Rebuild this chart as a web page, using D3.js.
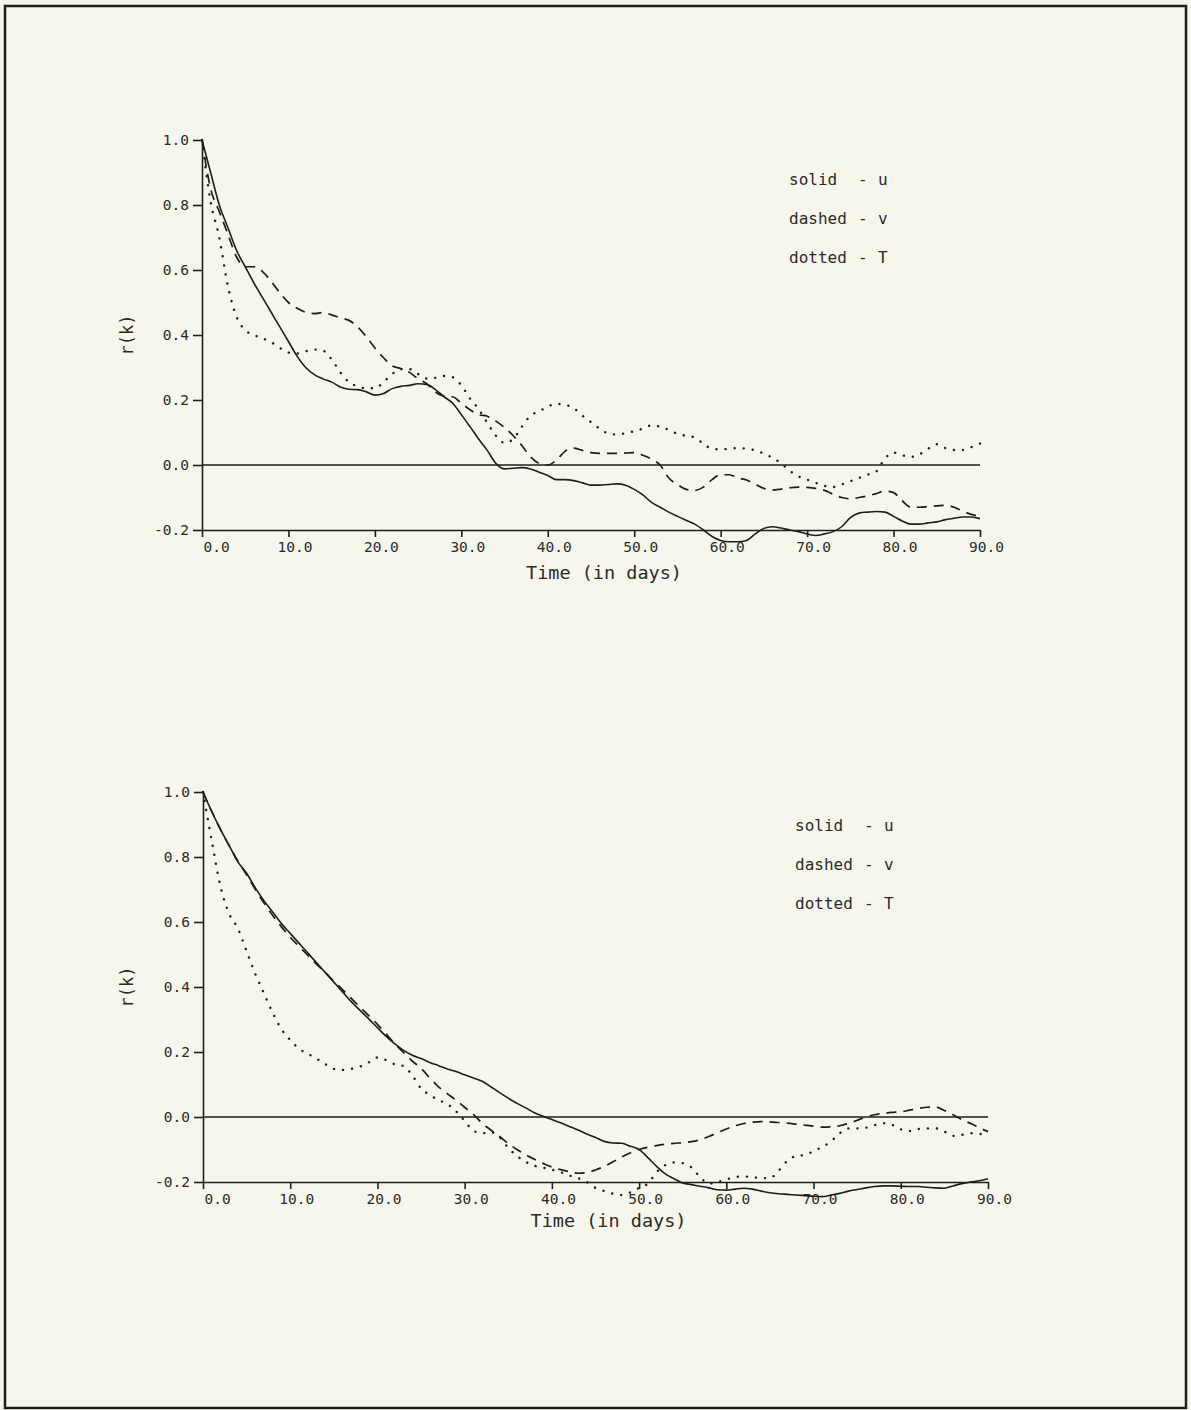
<!DOCTYPE html>
<html>
<head>
<meta charset="utf-8">
<script src="https://cdn.jsdelivr.net/npm/d3@7"></script>
<style>
  body { margin: 0; background: #f7f6ec; }
  text { font-family: "DejaVu Sans Mono", "Liberation Mono", monospace; fill: #2a2a2a; }
</style>
</head>
<body>
<script>
// lag in days, 0..90
var days = d3.range(0, 91);
var xTicks = [0, 10, 20, 30, 40, 50, 60, 70, 80, 90];
var yTicks = [-0.2, 0.0, 0.2, 0.4, 0.6, 0.8, 1.0];
var legendNames = ["solid", "dashed", "dotted"];
var legendVars = ["u", "v", "T"];

// upper panel
var topU = [1.00,0.90,0.80,0.73,0.66,0.61,0.56,0.515,0.47,0.425,
  0.38,0.335,0.30,0.278,0.265,0.255,0.24,0.233,0.232,0.225,
  0.215,0.22,0.235,0.242,0.245,0.25,0.248,0.232,0.21,0.19,
  0.155,0.118,0.08,0.045,0.005,-0.012,-0.01,-0.008,-0.012,-0.022,
  -0.032,-0.045,-0.045,-0.048,-0.055,-0.062,-0.062,-0.06,-0.058,-0.062,
  -0.075,-0.092,-0.115,-0.13,-0.145,-0.158,-0.17,-0.182,-0.2,-0.22,
  -0.232,-0.236,-0.236,-0.232,-0.212,-0.195,-0.19,-0.194,-0.2,-0.205,
  -0.212,-0.217,-0.212,-0.205,-0.19,-0.162,-0.148,-0.145,-0.143,-0.145,
  -0.158,-0.172,-0.182,-0.182,-0.178,-0.175,-0.168,-0.164,-0.16,-0.16,
  -0.165];
var topV = [1.0,0.85,0.78,0.71,0.64,0.61,0.61,0.595,0.565,0.53,
  0.50,0.482,0.47,0.466,0.469,0.462,0.453,0.445,0.425,0.395,
  0.36,0.33,0.305,0.297,0.285,0.265,0.25,0.225,0.212,0.21,
  0.19,0.17,0.155,0.15,0.135,0.115,0.09,0.06,0.025,0.005,
  0.0,0.015,0.042,0.052,0.045,0.038,0.036,0.036,0.036,0.037,
  0.038,0.03,0.018,0.0,-0.04,-0.06,-0.075,-0.078,-0.068,-0.045,
  -0.03,-0.03,-0.04,-0.046,-0.06,-0.072,-0.077,-0.074,-0.07,-0.068,
  -0.069,-0.072,-0.078,-0.09,-0.1,-0.104,-0.1,-0.095,-0.088,-0.08,
  -0.085,-0.11,-0.13,-0.13,-0.128,-0.126,-0.124,-0.13,-0.142,-0.152,
  -0.158];
var topT = [1.0,0.81,0.70,0.55,0.456,0.415,0.40,0.39,0.378,0.36,
  0.346,0.343,0.35,0.355,0.352,0.325,0.285,0.255,0.242,0.236,
  0.236,0.255,0.28,0.295,0.295,0.28,0.266,0.268,0.274,0.27,
  0.245,0.205,0.172,0.13,0.09,0.068,0.08,0.118,0.152,0.165,
  0.18,0.188,0.185,0.175,0.152,0.132,0.112,0.097,0.094,0.098,
  0.104,0.112,0.122,0.118,0.108,0.096,0.09,0.085,0.065,0.05,
  0.048,0.05,0.052,0.05,0.045,0.035,0.022,0.005,-0.018,-0.035,
  -0.045,-0.055,-0.064,-0.068,-0.06,-0.05,-0.04,-0.03,-0.02,0.02,
  0.038,0.03,0.025,0.033,0.05,0.064,0.052,0.046,0.046,0.055,
  0.066];

// lower panel
var botU = [1.0,0.94,0.885,0.835,0.785,0.75,0.705,0.665,0.63,0.595,
  0.565,0.535,0.505,0.475,0.445,0.415,0.385,0.355,0.328,0.302,
  0.275,0.248,0.225,0.205,0.19,0.18,0.168,0.158,0.148,0.14,
  0.13,0.12,0.11,0.093,0.075,0.058,0.042,0.028,0.013,0.002,
  -0.008,-0.018,-0.029,-0.04,-0.052,-0.063,-0.075,-0.08,-0.081,-0.09,
  -0.1,-0.125,-0.152,-0.175,-0.19,-0.203,-0.208,-0.213,-0.218,-0.224,
  -0.225,-0.222,-0.219,-0.222,-0.228,-0.233,-0.236,-0.238,-0.24,-0.242,
  -0.244,-0.245,-0.24,-0.235,-0.228,-0.223,-0.218,-0.214,-0.212,-0.212,
  -0.213,-0.214,-0.214,-0.216,-0.218,-0.219,-0.212,-0.205,-0.2,-0.196,
  -0.19];
var botV = [1.0,0.94,0.885,0.835,0.787,0.745,0.70,0.658,0.62,0.585,
  0.553,0.525,0.498,0.47,0.445,0.418,0.392,0.365,0.338,0.312,
  0.285,0.255,0.225,0.198,0.172,0.15,0.12,0.093,0.072,0.052,
  0.03,0.008,-0.019,-0.04,-0.06,-0.082,-0.1,-0.116,-0.13,-0.143,
  -0.154,-0.162,-0.168,-0.173,-0.171,-0.163,-0.152,-0.138,-0.123,-0.11,
  -0.1,-0.093,-0.088,-0.084,-0.081,-0.079,-0.076,-0.07,-0.06,-0.048,
  -0.037,-0.027,-0.02,-0.016,-0.014,-0.015,-0.017,-0.019,-0.022,-0.025,
  -0.028,-0.031,-0.03,-0.027,-0.02,-0.01,0.0,0.007,0.011,0.014,
  0.016,0.021,0.026,0.03,0.031,0.02,0.007,-0.008,-0.02,-0.033,
  -0.045];
var botT = [1.0,0.85,0.71,0.625,0.58,0.51,0.44,0.38,0.32,0.27,
  0.237,0.21,0.195,0.18,0.163,0.148,0.145,0.148,0.155,0.168,
  0.183,0.175,0.162,0.157,0.128,0.088,0.068,0.052,0.04,0.018,
  -0.012,-0.042,-0.05,-0.047,-0.062,-0.095,-0.12,-0.138,-0.15,-0.156,
  -0.162,-0.17,-0.18,-0.188,-0.2,-0.218,-0.228,-0.236,-0.24,-0.232,
  -0.218,-0.205,-0.17,-0.148,-0.14,-0.142,-0.155,-0.185,-0.205,-0.2,
  -0.192,-0.185,-0.183,-0.185,-0.188,-0.188,-0.165,-0.135,-0.12,-0.117,
  -0.105,-0.092,-0.075,-0.05,-0.035,-0.035,-0.033,-0.025,-0.019,-0.024,
  -0.038,-0.043,-0.037,-0.035,-0.035,-0.045,-0.058,-0.055,-0.05,-0.052,
  -0.055];

var width = 1191, height = 1410;
var svg = d3.select("body").append("svg")
  .attr("width", width)
  .attr("height", height);

svg.append("rect")
  .attr("x", 5).attr("y", 6)
  .attr("width", 1181).attr("height", 1402)
  .attr("fill", "none")
  .attr("stroke", "#1e1e1e")
  .attr("stroke-width", 2.5);

var styles = [
  {dash: null, width: 1.6, cap: "butt"},
  {dash: "10,7", width: 1.7, cap: "butt"},
  {dash: "0.1,9", width: 2.4, cap: "round"}
];

function panel(p) {
  var x = d3.scaleLinear().domain([0, 90]).range([p.x0, p.x1]);
  var y = d3.scaleLinear().domain([-0.2, 1.0]).range([p.yBot, p.yTop]);
  var g = svg.append("g");

  var bottomAxis = d3.axisBottom(x)
    .tickValues(xTicks)
    .tickFormat(d => d.toFixed(1))
    .tickSize(7).tickSizeOuter(0).tickPadding(5);
  var xa = g.append("g")
    .attr("transform", "translate(0," + y(-0.2) + ")")
    .call(bottomAxis);
  xa.selectAll("text").attr("dx", 6).style("font-size", "14.5px");
  xa.selectAll(".tick").filter(d => d === 0).select("text")
    .attr("text-anchor", "start").attr("dx", 1);

  var leftAxis = d3.axisLeft(y)
    .tickValues(yTicks)
    .tickFormat(d => d.toFixed(1))
    .tickSize(9).tickSizeOuter(0).tickPadding(4);
  var ya = g.append("g")
    .attr("transform", "translate(" + x(0) + ",0)")
    .call(leftAxis);
  ya.selectAll("text").style("font-size", "14.5px");

  g.selectAll(".domain, .tick line")
    .attr("stroke", "#1e1e1e").attr("stroke-width", 1.6);

  // zero line
  g.append("line")
    .attr("x1", x(0)).attr("x2", x(90))
    .attr("y1", y(0)).attr("y2", y(0))
    .attr("stroke", "#1e1e1e").attr("stroke-width", 1.6);

  var line = d3.line()
    .x((d, i) => x(days[i]))
    .y(d => y(d))
    .curve(d3.curveMonotoneX);

  p.series.forEach((s, i) => {
    g.append("path")
      .datum(s)
      .attr("d", line)
      .attr("fill", "none")
      .attr("stroke", "#1e1e1e")
      .attr("stroke-width", styles[i].width)
      .attr("stroke-linecap", styles[i].cap)
      .attr("stroke-dasharray", styles[i].dash);
  });

  g.append("text")
    .attr("transform", "translate(" + p.rkx + "," + ((y(-0.2) + y(1)) / 2) + ") rotate(-90)")
    .attr("text-anchor", "middle")
    .attr("dy", "0.35em")
    .style("font-size", "17px")
    .text("r(k)");

  g.append("text")
    .attr("x", (x(0) + x(90)) / 2 + 13)
    .attr("y", p.titleY)
    .attr("text-anchor", "middle")
    .attr("dy", "0.35em")
    .style("font-size", "18.5px")
    .text("Time (in days)");

  legendNames.forEach((n, i) => {
    var ly = p.legY + i * p.legGap;
    g.append("text").attr("x", p.legX).attr("y", ly).attr("dy", "0.35em")
      .style("font-size", "16px").text(n);
    g.append("text").attr("x", p.legX + 69).attr("y", ly).attr("dy", "0.35em")
      .style("font-size", "16px").text("-");
    g.append("text").attr("x", p.legX + 89).attr("y", ly).attr("dy", "0.35em")
      .style("font-size", "16px").text(legendVars[i]);
  });
}

panel({x0: 202, x1: 980, yBot: 530, yTop: 140, series: [topU, topV, topT],
  rkx: 127, titleY: 573, legX: 789, legY: 179, legGap: 39});
panel({x0: 203, x1: 988, yBot: 1182, yTop: 792, series: [botU, botV, botT],
  rkx: 127, titleY: 1221, legX: 795, legY: 825, legGap: 39});
</script>
</body>
</html>
